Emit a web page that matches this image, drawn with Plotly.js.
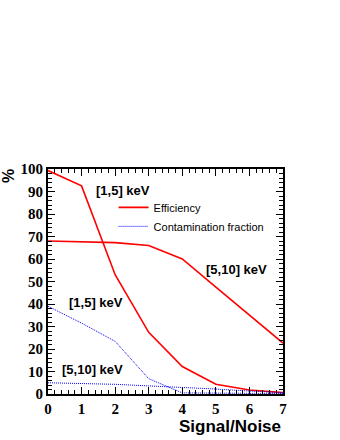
<!DOCTYPE html>
<html>
<head>
<meta charset="utf-8">
<script src="https://cdn.plot.ly/plotly-3.0.1.min.js"></script>
<style>
  html, body { margin: 0; padding: 0; background: #fff; }
  #chart { width: 340px; height: 440px; }
</style>
</head>
<body>
<div id="chart"></div>
<script>
// Signal/Noise cut values
const snr = [0, 1, 2, 3, 4, 5, 6, 7];

// Efficiency (%) per energy window
const effLow = [99.3, 92.5, 53.0, 27.4, 12.2, 4.3, 1.8, 0.6];
const effHigh = [68.0, 67.6, 67.3, 66.0, 60.0, 47.5, 35.0, 22.6];

// Contamination fraction (%) per energy window
const contLow = [39.0, 31.5, 23.4, 6.8, 0.5, 0.3, 0.2, 0.2];
const contHigh = [5.0, 4.7, 4.3, 3.6, 3.0, 2.2, 1.3, 0.6];

// Window labels and where they sit (data coordinates)
const labelText = ["[1,5] keV", "[5,10] keV", "[1,5] keV", "[5,10] keV"];
const labelX = [2.22, 5.61, 1.44, 1.34];
const labelY = [90.5, 55.2, 40.8, 10.7];

const red = "#ff0000";
const blue = "#0000ff";

const traces = [
  {
    x: snr, y: effLow, mode: "lines", type: "scatter",
    name: "Efficiency", legendgroup: "eff",
    line: { color: red, width: 1.6 },
  },
  {
    x: snr, y: contLow, mode: "lines", type: "scatter",
    name: "Contamination fraction", legendgroup: "cont",
    line: { color: blue, width: 1, dash: "1px,1px" },
  },
  {
    x: snr, y: effHigh, mode: "lines", type: "scatter",
    name: "Efficiency", legendgroup: "eff", showlegend: false,
    line: { color: red, width: 1.6 },
  },
  {
    x: snr, y: contHigh, mode: "lines", type: "scatter",
    name: "Contamination fraction", legendgroup: "cont", showlegend: false,
    line: { color: blue, width: 1, dash: "1px,1px" },
  },
];

const tickFont = { family: "Liberation Serif", size: 15, color: "#000", weight: "bold" };

const axisCommon = {
  showgrid: false,
  zeroline: false,
  showline: true,
  linecolor: "#000",
  linewidth: 2,
  mirror: "allticks",
  ticks: "inside",
  ticklen: 7,
  tickwidth: 1,
  tickcolor: "#000",
  tickfont: tickFont,
  fixedrange: true,
};

const labelAnnotations = labelText.map((t, i) => ({
  text: t,
  x: labelX[i], y: labelY[i],
  xref: "x", yref: "y",
  showarrow: false,
  font: { family: "Liberation Sans", size: 13, color: "#000", weight: "bold" },
}));

const layout = {
  width: 340,
  height: 440,
  margin: { l: 48, r: 57, t: 169, b: 46 },
  paper_bgcolor: "#fff",
  plot_bgcolor: "#fff",
  showlegend: true,
  legend: {
    x: 0.279, y: 0.894, xanchor: "left", yanchor: "top",
    bgcolor: "rgba(0,0,0,0)",
    font: { family: "Liberation Sans", size: 11, color: "#000" },
    itemwidth: 30,
    tracegroupgap: 0,
  },
  xaxis: Object.assign({}, axisCommon, {
    range: [0, 7],
    dtick: 1,
    minor: { dtick: 0.2, ticks: "inside", ticklen: 4, tickcolor: "#000" },
  }),
  yaxis: Object.assign({}, axisCommon, {
    range: [0, 100],
    dtick: 10,
    minor: { dtick: 2, ticks: "inside", ticklen: 4, tickcolor: "#000" },
  }),
  annotations: labelAnnotations.concat([
    {
      text: "Signal/Noise",
      x: 1, y: 0, xref: "paper", yref: "paper",
      xanchor: "right", yanchor: "middle", yshift: -32,
      showarrow: false,
      font: { family: "Liberation Sans", size: 17, color: "#000", weight: "bold" },
    },
    {
      text: "%",
      x: 0, y: 1, xref: "paper", yref: "paper",
      xanchor: "center", yanchor: "top", xshift: -40, yshift: 2,
      textangle: -90,
      showarrow: false,
      font: { family: "Liberation Sans", size: 16, color: "#000", weight: "bold" },
    },
  ]),
};

Plotly.newPlot("chart", traces, layout, { displayModeBar: false, staticPlot: true });
</script>
</body>
</html>
